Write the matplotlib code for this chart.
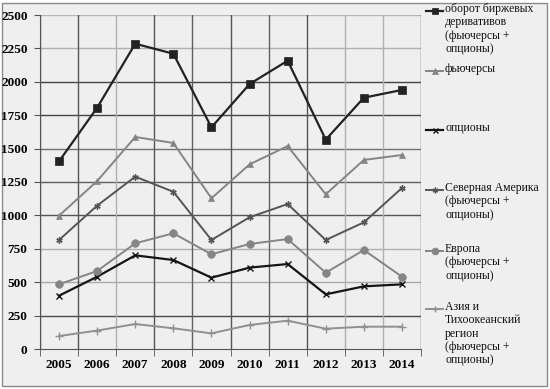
import matplotlib
matplotlib.use("Agg")
import matplotlib.pyplot as plt
from matplotlib.patches import Rectangle
from matplotlib.lines import Line2D

years = ["2005", "2006", "2007", "2008", "2009", "2010", "2011", "2012", "2013", "2014"]

turnover = [1405, 1806, 2285, 2210, 1659, 1983, 2158, 1567, 1881, 1939]
futures = [998, 1257, 1587, 1542, 1128, 1382, 1519, 1158, 1415, 1452]
options = [399, 541, 701, 666, 534, 609, 636, 409, 469, 484]
north_america = [816, 1073, 1290, 1177, 816, 986, 1085, 816, 948, 1205]
europe = [484, 584, 791, 866, 709, 786, 823, 571, 741, 541]
asia = [97, 138, 187, 155, 117, 180, 212, 152, 167, 167]

labels = [
    "оборот биржевых\nдеривативов\n(фьючерсы +\nопционы)",
    "фьючерсы",
    "опционы",
    "Северная Америка\n(фьючерсы +\nопционы)",
    "Европа\n(фьючерсы +\nопционы)",
    "Азия и\nТихоокеанский\nрегион\n(фьючерсы +\nопционы)",
]

# style per series: colour, marker, marker size, line width
styles = [
    ("#222222", "s", 5.5, 1.6),
    ("#858585", "^", 4.5, 1.4),
    ("#151515", "x", 4.0, 1.6),
    ("#555555", (6, 2, 0), 4.5, 1.4),
    ("#858585", "o", 5.5, 1.4),
    ("#909090", "+", 5.5, 1.4),
]
series = [turnover, futures, options, north_america, europe, asia]

plt.rcParams["font.family"] = ["Liberation Serif", "DejaVu Serif"]

fig = plt.figure(figsize=(5.5, 3.89), dpi=100, facecolor="white")
fig.patches.append(Rectangle((2 / 550, 3 / 389), 545 / 550, 383 / 389,
                             transform=fig.transFigure, facecolor="#efefef",
                             edgecolor="#8a8a8a", linewidth=1.0, zorder=-5))

ax = fig.add_axes([40 / 550, 1 - 349 / 389, 381 / 550, 334 / 389])
ax.set_facecolor("#efefef")


def mew(m):
    return 0.5 if m in ("s", "o", "^") else 1.0


x = list(range(len(years)))
for vals, (c, m, ms, lw) in zip(series, styles):
    ax.plot(x, vals, color=c, marker=m, markersize=ms, linewidth=lw,
            markeredgewidth=mew(m), zorder=3)

ax.set_xlim(-0.5, len(years) - 0.5)
ax.set_ylim(0, 2500)
ax.set_yticks(range(0, 2501, 250))
ax.set_yticklabels([str(v) for v in range(0, 2501, 250)], fontweight="bold", fontsize=9.5)
ax.set_xticks(x)
ax.set_xticklabels(years, fontweight="bold", fontsize=9.5)
ax.set_xticks([i - 0.5 for i in range(len(years) + 1)], minor=True)
ax.tick_params(axis="x", which="major", length=0, pad=7)
ax.tick_params(axis="x", which="minor", length=5, color="#555555")
ax.tick_params(axis="y", length=4, color="#555555", pad=5)

# gridlines, shades vary like in the scanned original
hshades = ["#555555", "#4a4a4a", "#aaaaaa", "#b0b0b0", "#555555",
           "#606060", "#707070", "#444444", "#444444", "#b0b0b0", "#b5b5b5"]
for yv, c in zip(range(0, 2501, 250), hshades):
    if yv > 0:
        ax.axhline(yv, color=c, linewidth=1.0, zorder=1)
vshades = ["#555555", "#555555", "#b0b0b0", "#555555", "#606060",
           "#555555", "#606060", "#555555", "#b0b0b0", "#b0b0b0", "#555555"]
for i, c in enumerate(vshades):
    ax.axvline(i - 0.5, color=c, linewidth=1.0, zorder=1)

for s in ax.spines.values():
    s.set_visible(False)
ax.spines["left"].set_visible(True)
ax.spines["left"].set_color("#555555")
ax.spines["bottom"].set_visible(True)
ax.spines["bottom"].set_color("#555555")

# legend drawn by hand so each handle sits on the first text line
tops = [11, 71, 130, 190, 251, 309]
for top, lab, (c, m, ms, lw) in zip(tops, labels, styles):
    yf = 1 - top / 389
    fig.add_artist(Line2D([426 / 550, 443 / 550], [yf, yf], color=c, linewidth=lw,
                          transform=fig.transFigure))
    fig.add_artist(Line2D([435 / 550], [yf], color=c, marker=m, markersize=ms * 0.9,
                          markeredgewidth=mew(m), transform=fig.transFigure))
    fig.text(445 / 550, yf + 8 / 389, lab, fontsize=8.5, va="top", ha="left",
             linespacing=1.15, color="#111111")

fig.savefig("out.png", dpi=100, facecolor=fig.get_facecolor())
